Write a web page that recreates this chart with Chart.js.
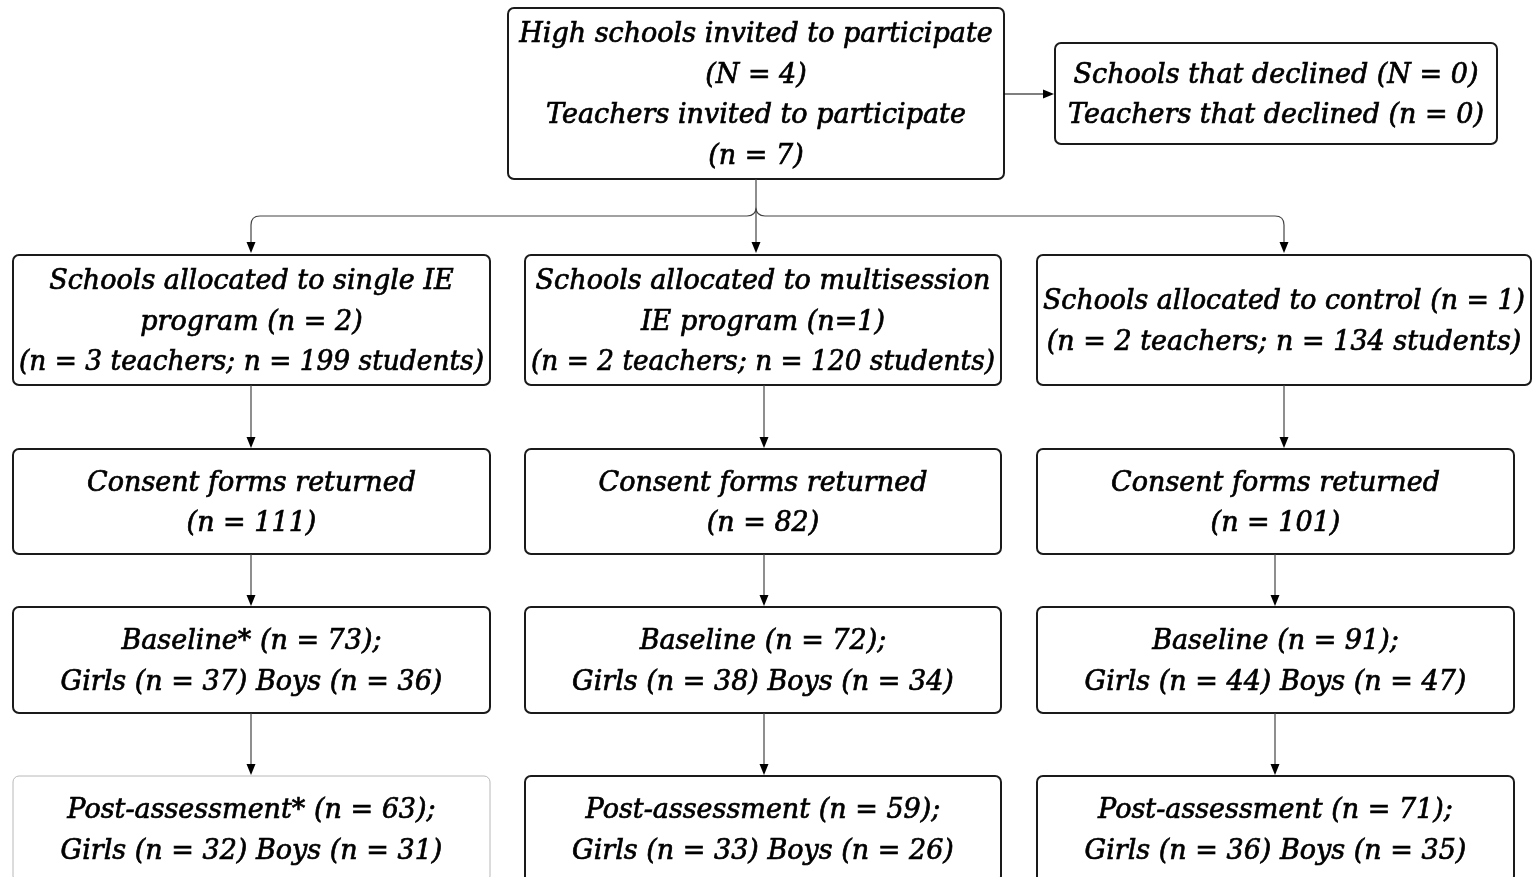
<!DOCTYPE html>
<html>
<head>
<meta charset="utf-8">
<script src="https://cdn.jsdelivr.net/npm/chart.js@4/dist/chart.umd.min.js"></script>
<style>
  html, body { margin: 0; padding: 0; background: #fff; }
  #wrap { width: 1535px; height: 877px; }
</style>
</head>
<body>
<div id="wrap"><canvas id="mycanvas" width="1535" height="877"></canvas></div>
<script>
// study numbers
var schoolsInvited = 4;
var teachersInvited = 7;
var schoolsDeclined = 0;
var teachersDeclined = 0;
var groups = ['single IE', 'multisession', 'control'];
var schoolsN = [2, 1, 1];
var teachersN = [3, 2, 2];
var studentsN = [199, 120, 134];
var consentN = [111, 82, 101];
var baselineN = [73, 72, 91];
var baselineGirls = [37, 38, 44];
var baselineBoys = [36, 34, 47];
var postN = [63, 59, 71];
var postGirls = [32, 33, 36];
var postBoys = [31, 26, 35];

// layout (in axis units, 1 unit = 1 px)
var cols = [[13, 490], [525, 1001], [1037, 1514]];
var rows = [[255, 385], [449, 554], [607, 713], [776, 882]];
var LINE_H = 40.5;

function boxes() {
	var out = [];
	out.push({ l: 508, r: 1004, t: 8, b: 179, lines: [
		'High schools invited to participate', '(N = ' + schoolsInvited + ')',
		'Teachers invited to participate', '(n = ' + teachersInvited + ')'] });
	out.push({ l: 1055, r: 1497, t: 43, b: 144, lines: [
		'Schools that declined (N = ' + schoolsDeclined + ')',
		'Teachers that declined (n = ' + teachersDeclined + ')'] });
	var r2 = [
		['Schools allocated to single IE', 'program (n = ' + schoolsN[0] + ')',
		 '(n = ' + teachersN[0] + ' teachers; n = ' + studentsN[0] + ' students)'],
		['Schools allocated to multisession', 'IE program (n=' + schoolsN[1] + ')',
		 '(n = ' + teachersN[1] + ' teachers; n = ' + studentsN[1] + ' students)'],
		['Schools allocated to control (n = ' + schoolsN[2] + ')',
		 '(n = ' + teachersN[2] + ' teachers; n = ' + studentsN[2] + ' students)']
	];
	for (var i = 0; i < 3; i++) {
		var c = cols[i];
		out.push({ l: c[0], r: (i == 2 ? 1531 : c[1]), t: rows[0][0], b: rows[0][1], lines: r2[i] });
		out.push({ l: c[0], r: c[1], t: rows[1][0], b: rows[1][1], lines: [
			'Consent forms returned', '(n = ' + consentN[i] + ')'] });
		out.push({ l: c[0], r: c[1], t: rows[2][0], b: rows[2][1], lines: [
			'Baseline' + (i == 0 ? '*' : '') + ' (n = ' + baselineN[i] + ');',
			'Girls (n = ' + baselineGirls[i] + ') Boys (n = ' + baselineBoys[i] + ')'] });
		out.push({ l: c[0], r: c[1], t: rows[3][0], b: rows[3][1], light: i == 0, lines: [
			'Post-assessment' + (i == 0 ? '*' : '') + ' (n = ' + postN[i] + ');',
			'Girls (n = ' + postGirls[i] + ') Boys (n = ' + postBoys[i] + ')'] });
	}
	return out;
}

// vertical arrows between rows
var arrowXs = [[251, 764, 1284], [251, 764, 1275], [251, 764, 1275]];

var flowPlugin = {
	id: 'flow',
	afterDraw: function(chart) {
		var ctx = chart.ctx;
		var xs = chart.scales.x, ys = chart.scales.y;
		var X = function(v) { return xs.getPixelForValue(v); };
		var Y = function(v) { return ys.getPixelForValue(v); };

		function head(x, y, dir) {
			ctx.fillStyle = '#000';
			ctx.beginPath();
			if (dir == 'down') {
				ctx.moveTo(x, y); ctx.lineTo(x - 4.5, y - 11); ctx.lineTo(x + 4.5, y - 11);
			} else {
				ctx.moveTo(x, y); ctx.lineTo(x - 11, y - 4.5); ctx.lineTo(x - 11, y + 4.5);
			}
			ctx.closePath();
			ctx.fill();
		}

		ctx.save();
		// boxes
		var bs = boxes();
		bs.forEach(function(b) {
			var l = X(b.l), r = X(b.r), t = Y(b.t), bt = Y(b.b);
			ctx.beginPath();
			ctx.roundRect(l, t, r - l, bt - t, 6);
			ctx.fillStyle = '#fff';
			ctx.fill();
			ctx.lineWidth = b.light ? 1 : 2;
			ctx.strokeStyle = b.light ? '#b8b8b8' : '#1a1a1a';
			ctx.stroke();
			ctx.fillStyle = '#000';
			ctx.strokeStyle = '#000';
			ctx.lineWidth = 0.7;
			ctx.font = 'italic 27px "DejaVu Serif"';
			ctx.textAlign = 'center';
			ctx.textBaseline = 'middle';
			var cx = (l + r) / 2, cy = (t + bt) / 2;
			var n = b.lines.length;
			var mw = r - l - 12;
			b.lines.forEach(function(s, k) {
				var ty = cy + (k - (n - 1) / 2) * LINE_H + 2.5;
				ctx.fillText(s, cx, ty, mw);
				ctx.strokeText(s, cx, ty, mw);
			});
		});

		// arrow to declined box
		ctx.strokeStyle = '#000';
		ctx.lineWidth = 1.2;
		ctx.beginPath();
		ctx.moveTo(X(1004), Y(94)); ctx.lineTo(X(1045), Y(94));
		ctx.stroke();
		head(X(1054), Y(94), 'right');

		// split from top box to row 2
		ctx.strokeStyle = '#444';
		ctx.lineWidth = 1.2;
		var hy = Y(216), rr = 9;
		ctx.beginPath();
		ctx.moveTo(X(756), Y(179)); ctx.lineTo(X(756), Y(243));
		ctx.moveTo(X(251), Y(243)); ctx.lineTo(X(251), hy + rr);
		ctx.quadraticCurveTo(X(251), hy, X(251) + rr, hy);
		ctx.lineTo(X(756) - rr, hy);
		ctx.quadraticCurveTo(X(756), hy, X(756), hy - rr);
		ctx.moveTo(X(1284), Y(243)); ctx.lineTo(X(1284), hy + rr);
		ctx.quadraticCurveTo(X(1284), hy, X(1284) - rr, hy);
		ctx.lineTo(X(756) + rr, hy);
		ctx.quadraticCurveTo(X(756), hy, X(756), hy - rr);
		ctx.stroke();
		head(X(251), Y(253), 'down');
		head(X(756), Y(253), 'down');
		head(X(1284), Y(253), 'down');

		// vertical arrows between rows
		for (var k = 0; k < 3; k++) {
			for (var i = 0; i < 3; i++) {
				var x = X(arrowXs[k][i]);
				var y0 = Y(rows[k][1]), y1 = Y(rows[k + 1][0] - 1);
				ctx.beginPath();
				ctx.moveTo(x, y0); ctx.lineTo(x, y1 - 10);
				ctx.stroke();
				head(x, y1, 'down');
			}
		}
		ctx.restore();
	}
};

var ctx = document.getElementById('mycanvas');
var flowChart = new Chart(ctx, {
	type: 'scatter',
	data: { datasets: [{ data: [], pointRadius: 0 }] },
	options: {
		responsive: false,
		animation: false,
		layout: { padding: 0 },
		scales: {
			x: { type: 'linear', min: 0, max: 1535, display: false },
			y: { type: 'linear', min: 0, max: 877, reverse: true, display: false }
		},
		plugins: { legend: { display: false }, tooltip: { enabled: false } }
	},
	plugins: [flowPlugin]
});
</script>
</body>
</html>
